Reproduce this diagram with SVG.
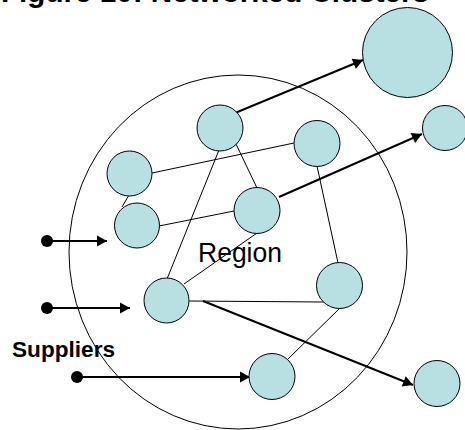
<svg xmlns="http://www.w3.org/2000/svg" width="465" height="430" viewBox="0 0 465 430">
<style>
.n{fill:#b8dfe2;stroke:#000;stroke-width:1}
.e{stroke:#000;stroke-width:1;fill:none}
.a{stroke:#000;stroke-width:2;fill:none;marker-end:url(#ah)}
.t{font-family:"Liberation Sans",Arial,sans-serif;fill:#000}
</style>
<defs>
<marker id="ah" markerUnits="userSpaceOnUse" markerWidth="12" markerHeight="12" viewBox="0 0 12 12" refX="11" refY="6" orient="auto">
<path d="M1,0.5 L11,6 L1,11.5 Z" fill="#000"/>
</marker>
</defs>
<rect width="465" height="430" fill="#fff"/>
<text class="t" x="1" y="2" font-size="29" font-weight="bold" textLength="428" lengthAdjust="spacingAndGlyphs">Figure 10: Networked Clusters</text>
<g id="region">
<ellipse cx="238" cy="252" rx="169" ry="177" fill="none" stroke="#000" stroke-width="1"/>
</g>
<g id="connectors">
<line class="e" x1="152" y1="173" x2="294" y2="143"/>
<line class="e" x1="129" y1="195" x2="122" y2="207"/>
<line class="e" x1="159" y1="226" x2="234" y2="211"/>
<line class="e" x1="219" y1="150" x2="167" y2="279"/>
<line class="e" x1="236" y1="144" x2="257" y2="188"/>
<line class="e" x1="257" y1="233" x2="184" y2="284"/>
<line class="e" x1="317" y1="166" x2="338" y2="263"/>
<line class="e" x1="189" y1="301" x2="324" y2="302"/>
<line class="e" x1="340" y1="308" x2="288" y2="359"/>
<line class="a" x1="235" y1="113" x2="363" y2="60"/>
<line class="a" x1="279" y1="197" x2="422" y2="134"/>
<line class="a" x1="203" y1="301" x2="413" y2="385"/>
<circle cx="47" cy="241" r="6" fill="#000"/>
<line class="a" x1="47" y1="241" x2="107" y2="241"/>
<circle cx="47" cy="308" r="6" fill="#000"/>
<line class="a" x1="47" y1="308" x2="130" y2="308"/>
<circle cx="77" cy="377" r="6" fill="#000"/>
<line class="a" x1="77" y1="377" x2="250" y2="377"/>
</g>
<g id="node-big"><circle class="n" cx="407.5" cy="52.5" r="45"/></g>
<g id="node-a"><circle class="n" cx="220" cy="128" r="23"/></g>
<g id="node-b"><circle class="n" cx="317" cy="143.5" r="23"/></g>
<g id="node-c"><circle class="n" cx="445" cy="128" r="22.5"/></g>
<g id="node-d"><circle class="n" cx="129.5" cy="173.5" r="22.5"/></g>
<g id="node-e"><circle class="n" cx="137" cy="225.5" r="22.5"/></g>
<g id="node-f"><circle class="n" cx="257" cy="210.5" r="23"/></g>
<g id="node-g"><circle class="n" cx="166.5" cy="300.5" r="22.5"/></g>
<g id="node-h"><circle class="n" cx="339.5" cy="285.5" r="23"/></g>
<g id="node-i"><circle class="n" cx="272" cy="376.5" r="23"/></g>
<g id="node-j"><circle class="n" cx="437" cy="383.5" r="23"/></g>
<text class="t" x="198" y="262" font-size="28" textLength="84" lengthAdjust="spacingAndGlyphs">Region</text>
<text class="t" x="12" y="357" font-size="22" font-weight="bold" textLength="103" lengthAdjust="spacingAndGlyphs">Suppliers</text>
</svg>
